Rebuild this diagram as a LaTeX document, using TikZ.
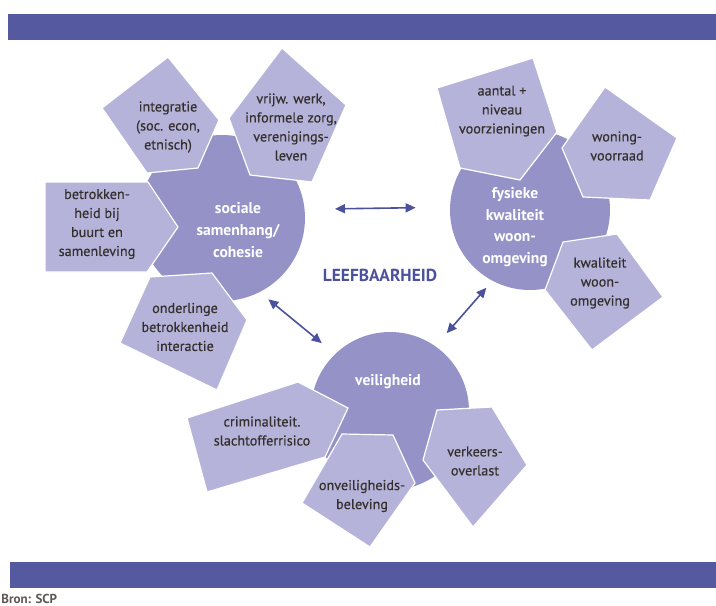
\documentclass[tikz,border=0pt]{standalone}
\usepackage{fontspec}
\setmainfont{PT Sans}
\newfontfamily\pentfont[FakeBold=0.35]{PT Sans}
\usetikzlibrary{arrows.meta}

\definecolor{barblue}{RGB}{84,89,160}
\definecolor{circfill}{RGB}{148,146,198}
\definecolor{pentfill}{RGB}{181,179,217}
\definecolor{arrowblue}{RGB}{75,81,156}
\definecolor{textdark}{RGB}{52,46,44}

\tikzset{
	circ/.style={circle, fill=circfill, inner sep=0pt, minimum size=#1},
	pent/.style={fill=pentfill, draw=white, line width=0.6pt},
	ptext/.style={align=center, text=textdark, inner sep=0pt, font=\pentfont\fontsize{7.1}{9.5}\selectfont},
	ctext/.style={align=center, text=white, inner sep=0pt, font=\bfseries\fontsize{7.8}{10.8}\selectfont},
	link/.style={{Triangle[length=5pt,width=4.5pt]}-{Triangle[length=5pt,width=4.5pt]}, draw=arrowblue, line width=0.8pt}
}

\begin{document}
\begin{tikzpicture}[x=0.5pt, y=-0.5pt]
	\useasboundingbox (0,0) rectangle (716,605);
	
	% Bars
	\fill[barblue] (8,14) rectangle (716,40);
	\fill[barblue] (10,562) rectangle (716,588);
	\node[anchor=base west, inner sep=0pt, text=textdark!80, font=\bfseries\fontsize{6.5}{7}\selectfont] (bron) at (1,603) {Bron: SCP};
	
	% Circles
	\node[circ=83pt] (soc) at (222,218) {};
	\node[circ=80pt] (fys) at (530,210) {};
	\node[circ=79pt] (veil) at (390,411) {};
	
	% Pentagons sociale samenhang
	\filldraw[pent] (102,108) -- (168,57) -- (219,120) -- (198,168) -- (147,173) -- cycle;
	\node[ptext] (integr) at (168,127) {integratie\\(soc. econ,\\etnisch)};
	\filldraw[pent] (229,118) -- (282,48) -- (346,105) -- (312,182) -- (250,175) -- cycle;
	\node[ptext] (vrijw) at (291,127) {vrijw. werk,\\informele zorg,\\verenigings-\\leven};
	\filldraw[pent] (45,182) -- (148,182) -- (178,227) -- (147,272) -- (45,272) -- cycle;
	\node[ptext] (betrok) at (97,224) {betrokken-\\heid bij\\buurt en\\samenleving};
	\filldraw[pent] (150,277) -- (212,273) -- (247,320) -- (217,390) -- (120,343) -- cycle;
	\node[ptext] (onderl) at (185,327) {onderlinge\\betrokkenheid\\interactie};
	
	% Pentagons fysieke kwaliteit
	\filldraw[pent] (437,88) -- (533,58) -- (557,132) -- (520,180) -- (460,168) -- cycle;
	\node[ptext] (aantal) at (502,111) {aantal +\\niveau\\voorzieningen};
	\filldraw[pent] (562,148) -- (605,87) -- (677,138) -- (650,200) -- (583,197) -- cycle;
	\node[ptext] (woning) at (617,146) {woning-\\voorraad};
	\filldraw[pent] (563,242) -- (617,234) -- (663,297) -- (592,350) -- (545,290) -- cycle;
	\node[ptext] (kwal) at (600,283) {kwaliteit\\woon-\\omgeving};
	
	% Pentagons veiligheid
	\filldraw[pent] (187,418) -- (298,382) -- (348,408) -- (325,457) -- (207,492) -- cycle;
	\node[ptext] (crimi) at (262,431) {criminaliteit.\\slachtofferrisico};
	\filldraw[pent] (302,503) -- (342,434) -- (393,435) -- (415,483) -- (370,547) -- cycle;
	\node[ptext] (onveil) at (362,496) {onveiligheids-\\beleving};
	\filldraw[pent] (423,460) -- (437,410) -- (492,407) -- (527,465) -- (473,527) -- cycle;
	\node[ptext] (verkeer) at (475,461) {verkeers-\\overlast};
	
	% Circle texts
	\node[ctext] (soctxt) at (238,230) {sociale\\samenhang/\\cohesie};
	\node[ctext] (fystxt) at (515,227) {fysieke\\kwaliteit\\woon-\\omgeving};
	\node[ctext] (veiltxt) at (388,382) {veiligheid};
	\node[text=arrowblue, font=\bfseries\fontsize{8.7}{10}\selectfont] (leef) at (380,275) {LEEFBAARHEID};
	
	% Connections
	\draw[link, shorten <=15pt, shorten >=17pt] (soc.6) -- (fys.178);
	\draw[link, shorten <=5.5pt, shorten >=8.5pt] (soc.-63) -- (veil.134);
	\draw[link, shorten <=4.5pt, shorten >=8.5pt] (fys.242) -- (veil.55);
\end{tikzpicture}
\end{document}
